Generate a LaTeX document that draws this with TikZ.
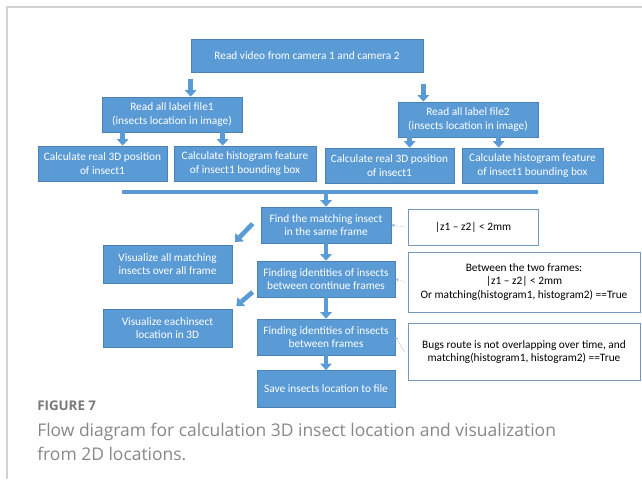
\documentclass[tikz,border=0pt]{standalone}
\usepackage{tikz}
\usepackage{xcolor}
\usepackage{fontspec}
\setmainfont{Carlito}
\newfontfamily\capfont{Open Sans}
\usetikzlibrary{arrows.meta}
\definecolor{boxblue}{RGB}{91,155,213}
\definecolor{boxline}{RGB}{65,113,156}
\definecolor{noteline}{RGB}{120,150,190}
\definecolor{hintgrey}{RGB}{150,180,215}
\definecolor{framegrey}{RGB}{210,210,210}
\definecolor{capgrey}{RGB}{135,135,135}

\begin{document}
\begin{tikzpicture}[x=0.75pt,y=-0.75pt,
    proc/.style={draw=boxline!60!boxblue, line width=0.5pt, fill=boxblue, text=white,
        align=center, inner sep=0pt, font=\fontsize{8.5}{10}\selectfont,
        minimum height=26.25pt},
    cond/.style={draw=noteline, line width=0.6pt, fill=white, align=center,
        inner sep=0pt, font=\fontsize{8.5}{10}\selectfont},
    joinbar/.style={fill=boxblue, inner sep=0pt, minimum height=3pt},
    flow/.style={draw=boxblue, line width=3.5pt,
        -{Triangle[width=9pt,length=5pt,line width=0pt]}},
    hint/.style={draw=hintgrey, densely dotted, line width=0.5pt,
        -{Stealth[length=2.5pt,width=2.5pt]}}]
    \useasboundingbox (0,0) rectangle (642,479);
    \draw[framegrey, line width=1pt] (7,479) -- (7,7) -- (642,7);

    \node[proc, minimum width=174pt, minimum height=24.75pt] (read) at (307,55.5)
        {Read video from camera 1 and camera 2};
    \node[proc, minimum width=105pt] (label1) at (172,114.5)
        {Read all label file1\\(insects location in image)};
    \node[proc, minimum width=105pt] (label2) at (468,119.5)
        {Read all label file2\\(insects location in image)};
    \node[proc, minimum width=96.75pt] (pos1) at (102.5,163.5)
        {Calculate real 3D position\\of insect1};
    \node[proc, minimum width=106.5pt] (hist1) at (245,163.5)
        {Calculate histogram feature\\of insect1 bounding box};
    \node[proc, minimum width=96.75pt] (pos2) at (389.5,165.5)
        {Calculate real 3D position\\of insect1};
    \node[proc, minimum width=105.75pt] (hist2) at (532.5,165.5)
        {Calculate histogram feature\\of insect1 bounding box};
    \node[joinbar, minimum width=312pt] (bar) at (330,192) {};

    \node[proc, minimum width=97.5pt, minimum height=27pt] (match) at (326,225)
        {Find the matching insect\\in the same frame};
    \node[proc, minimum width=103.5pt, minimum height=27pt] (track) at (326,279)
        {Finding identities of insects\\between continue frames};
    \node[proc, minimum width=103.5pt, minimum height=27pt] (link) at (326,337)
        {Finding identities of insects\\between frames};
    \node[proc, minimum width=103.5pt, minimum height=27.75pt] (save) at (326,389)
        {Save insects location to file};
    \node[proc, minimum width=96.75pt, minimum height=28.5pt] (showall) at (167.5,264)
        {Visualize all matching\\insects over all frame};
    \node[proc, minimum width=96.75pt, minimum height=28.5pt] (showeach) at (167.5,328)
        {Visualize eachinsect\\location in 3D};

    \node[cond, minimum width=97.5pt, minimum height=27pt] (cond1) at (473,227)
        {|z1 – z2| < 2mm};
    \node[cond, minimum width=174pt, minimum height=45pt] (cond2) at (524,282)
        {Between the two frames:\\|z1 – z2| < 2mm\\Or matching(histogram1, histogram2) ==True};
    \node[cond, minimum width=174pt, minimum height=42.75pt] (cond3) at (524,352)
        {Bugs route is not overlapping over time, and\\matching(histogram1, histogram2) ==True};

    \coordinate (r1) at ([yshift=-5pt]read.south west);
    \coordinate (r2) at ([yshift=-9pt]read.south east);
    \coordinate (a1) at ([xshift=15.75pt]label1.south west);
    \coordinate (a2) at ([xshift=90.75pt]label1.south west);
    \coordinate (b1) at ([xshift=9pt]label2.south west);
    \coordinate (b2) at ([xshift=75.75pt]label2.south west);
    \draw[flow] (r1) -- (r1 |- label1.north);
    \draw[flow] (r2) -- (r2 |- label2.north);
    \draw[flow] (a1) -- (a1 |- pos1.north);
    \draw[flow] (a2) -- (a2 |- hist1.north);
    \draw[flow] (b1) -- (b1 |- pos2.north);
    \draw[flow] (b2) -- (b2 |- hist2.north);
    \draw[flow] (match.north |- bar.south) -- (match.north);
    \draw[flow] (match) -- (track);
    \draw[flow] (track) -- (link);
    \draw[flow] (link) -- (save);
    \draw[flow] ([xshift=-6pt,yshift=1pt]match.west) -- ([shift={(2pt,2pt)}]showall.north east);
    \draw[flow] ([shift={(-3pt,4pt)}]track.south west) -- ([shift={(3pt,2pt)}]showeach.north east);

    \draw[hint] ([xshift=-2pt]cond1.west) -- (match.east);
    \draw[hint] ([xshift=-2pt]cond2.west) -- (track.east);
    \draw[hint] ([xshift=-2pt]cond3.west) -- (link.east);

    \node[anchor=base west, inner sep=0pt, text=capgrey!90!black,
        font=\capfont\bfseries\fontsize{10}{12}\selectfont] (figno) at (37,410) {FIGURE 7};
    \node[anchor=north west, align=left, inner sep=0pt, text=capgrey,
        font=\capfont\fontsize{13.1}{18}\selectfont] (figtext) at (37,423)
        {Flow diagram for calculation 3D insect location and visualization\\from 2D locations.};
\end{tikzpicture}
\end{document}
